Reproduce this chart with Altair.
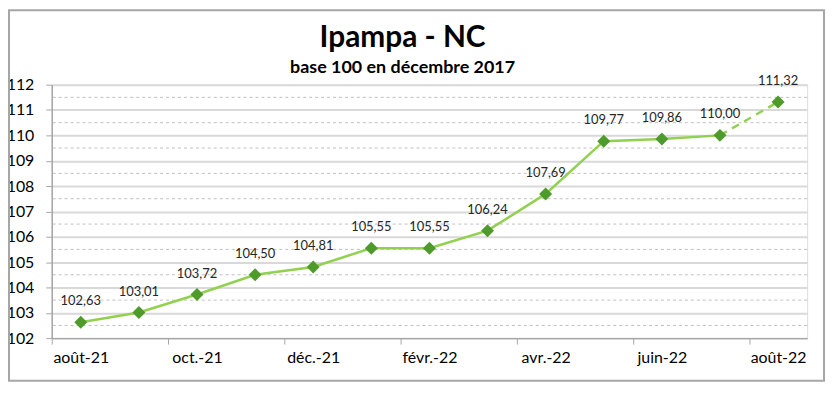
import altair as alt
import pandas as pd

months = ["août-21", "sept.-21", "oct.-21", "nov.-21", "déc.-21", "janv.-22", "févr.-22",
          "mars-22", "avr.-22", "mai-22", "juin-22", "juil.-22", "août-22"]
values = [102.63, 103.01, 103.72, 104.50, 104.81, 105.55, 105.55,
          106.24, 107.69, 109.77, 109.86, 110.00, 111.32]
value_labels = ["102,63", "103,01", "103,72", "104,50", "104,81", "105,55", "105,55",
                "106,24", "107,69", "109,77", "109,86", "110,00", "111,32"]
y_ticks = [102, 103, 104, 105, 106, 107, 108, 109, 110, 111, 112]
half_lines = [102.5, 103.5, 104.5, 105.5, 106.5, 107.5, 108.5, 109.5, 110.5, 111.5]
x_label_idx = [0, 2, 4, 6, 8, 10, 12]
title_text = "Ipampa - NC"
subtitle_text = "base 100 en décembre 2017"

W, H = 760, 255
band = W / 13
FONT = "Lato"

df = pd.DataFrame({"i": list(range(len(months))), "month": months,
                   "value": values, "label": value_labels})
solid = df[df.i <= 11]
dashed = df[df.i >= 11]
half_df = pd.DataFrame({"value": half_lines})

month_array = "[" + ",".join("'" + m + "'" for m in months) + "]"

xscale = alt.Scale(domain=[-0.5, 12.5], nice=False, zero=False)
yscale = alt.Scale(domain=[102, 112], nice=False, zero=False)

x_axis = alt.Axis(values=x_label_idx, labelExpr=month_array + "[datum.value]",
                  tickOffset=-band / 2, labelOffset=band / 2, grid=False, title=None,
                  domainColor="#a6a6a6", domainWidth=1.5, tickColor="#a6a6a6",
                  tickSize=6, labelFont=FONT, labelFontSize=16, labelColor="#000000",
                  labelPadding=6, labelFlush=False, labelOverlap=False)
y_axis = alt.Axis(values=y_ticks, grid=True, gridColor="#d9d9d9", gridWidth=2,
                  domainColor="#a6a6a6", domainWidth=1.5, tickColor="#a6a6a6",
                  tickSize=6, labelFont=FONT, labelFontSize=16, labelColor="#000000",
                  labelPadding=12, title=None, labelOverlap=False)

x_enc = alt.X("i:Q", scale=xscale, axis=x_axis)
y_enc = alt.Y("value:Q", scale=yscale, axis=y_axis)

halves = alt.Chart(half_df).mark_rule(color="#bfbfbf", strokeDash=[3, 3], strokeWidth=1).encode(
    y=y_enc)

one = pd.DataFrame({"t": [title_text], "s": [subtitle_text]})

border = alt.Chart(one).mark_rect(fill=None, stroke="#a6a6a6", strokeWidth=2,
                                  clip=False).encode(
    x=alt.value(-43), x2=alt.value(W + 17), y=alt.value(-75), y2=alt.value(H + 43))

title_mark = alt.Chart(one).mark_text(font=FONT, fontSize=30, fontWeight="bold", color="#000000",
                                      align="center", baseline="middle").encode(
    x=alt.value(353), y=alt.value(-47), text="t:N")
subtitle_mark = alt.Chart(one).mark_text(font=FONT, fontSize=18, fontWeight="bold", color="#000000",
                                         align="center", baseline="middle").encode(
    x=alt.value(353), y=alt.value(-17), text="s:N")

line_solid = alt.Chart(solid).mark_line(color="#92D050", strokeWidth=2.5).encode(x=x_enc, y=y_enc)
line_dash = alt.Chart(dashed).mark_line(color="#92D050", strokeWidth=2.5,
                                        strokeDash=[8, 6]).encode(x=x_enc, y=y_enc)
points = alt.Chart(df).mark_point(shape="diamond", filled=True, size=170, opacity=1,
                                  color="#4E9A2A").encode(x=x_enc, y=y_enc)
labels = alt.Chart(df).mark_text(dy=-21, font=FONT, fontSize=13, color="#262626").encode(
    x=x_enc, y=y_enc, text="label:N")

chart = alt.layer(halves, border, title_mark, subtitle_mark, line_solid, line_dash,
                  points, labels).properties(
    width=W, height=H,
    autosize=alt.AutoSizeParams(type="none"),
    padding={"left": 44, "top": 76, "right": 20, "bottom": 44},
).configure_view(stroke=None).configure(background="#ffffff")

chart.save("out.html", embed_options={"renderer": "svg", "actions": False})
